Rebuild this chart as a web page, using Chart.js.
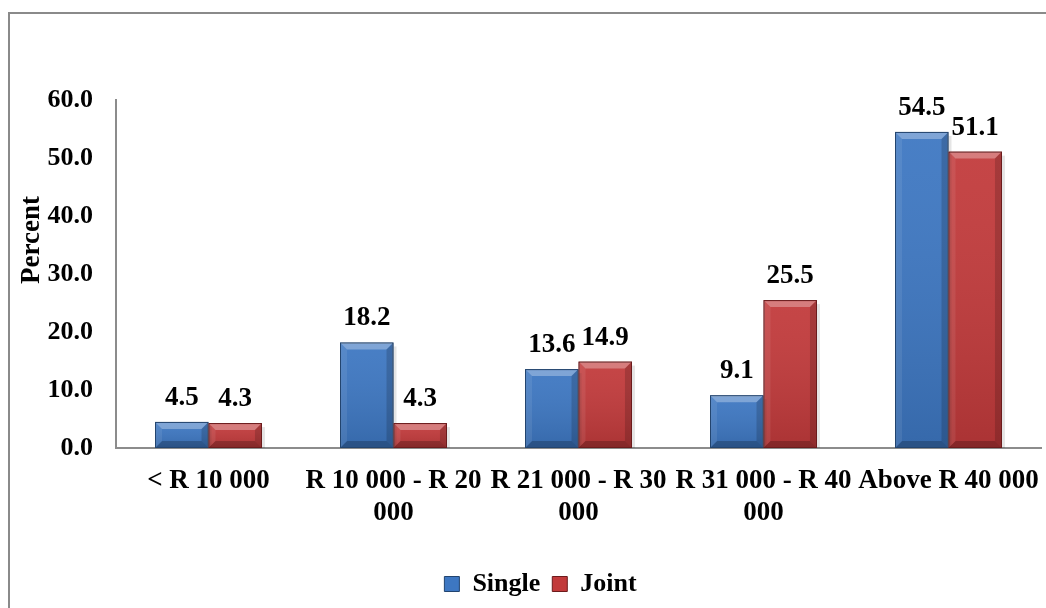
<!DOCTYPE html>
<html>
<head>
<meta charset="utf-8">
<script src="https://cdn.jsdelivr.net/npm/chart.js@4.4.1/dist/chart.umd.min.js"></script>
<style>
  html, body { margin: 0; padding: 0; background: #fff; }
  #wrap { width: 1046px; height: 608px; position: relative; }
</style>
</head>
<body>
<div id="wrap"><canvas id="c"></canvas></div>
<script>
// Income bands (multi-line labels) and the share of each group per band
const categories = [
  ['< R 10 000'],
  ['R 10 000 - R 20', '000'],
  ['R 21 000 - R 30', '000'],
  ['R 31 000 - R 40', '000'],
  ['Above R 40 000']
];
const singleValues = [4.5, 18.2, 13.6, 9.1, 54.5];
const jointValues  = [4.3, 4.3, 14.9, 25.5, 51.1];
const seriesNames  = ['Single', 'Joint'];
const yAxisTitle   = 'Percent';

const FONT = "'Liberation Serif', 'Times New Roman', serif";
const AXIS_GREY = '#8c8c8c';

const palette = [
  { fill: '#3d77c2', edge: '#22446f' },
  { fill: '#c23a3b', edge: '#6c1b1c' }
];

// White page, grey frame and the rotated value-axis caption
const framePlugin = {
  id: 'frame',
  beforeDraw(chart) {
    const ctx = chart.ctx;
    ctx.save();
    ctx.fillStyle = '#fff';
    ctx.fillRect(0, 0, chart.width, chart.height);
    ctx.strokeStyle = '#8a8a8a';
    ctx.lineWidth = 2;
    ctx.strokeRect(9, 13, chart.width + 20, chart.height + 20);
    ctx.restore();
  },
  afterDraw(chart) {
    const ctx = chart.ctx;
    ctx.save();
    ctx.translate(32, chart.chartArea.top + 140);
    ctx.rotate(-Math.PI / 2);
    ctx.fillStyle = '#000';
    ctx.font = 'bold 27px ' + FONT;
    ctx.textAlign = 'center';
    ctx.textBaseline = 'middle';
    ctx.fillText(yAxisTitle, 0, 0);
    ctx.restore();
  }
};

function poly(ctx, pts, style) {
  ctx.beginPath();
  ctx.moveTo(pts[0][0], pts[0][1]);
  for (let i = 1; i < pts.length; i++) ctx.lineTo(pts[i][0], pts[i][1]);
  ctx.closePath();
  ctx.fillStyle = style;
  ctx.fill();
}

// Bevelled bar faces plus the value written above every bar
const bevelPlugin = {
  id: 'bevel',
  afterDatasetsDraw(chart) {
    const ctx = chart.ctx;
    chart.data.datasets.forEach((ds, di) => {
      const meta = chart.getDatasetMeta(di);
      if (meta.hidden) return;
      meta.data.forEach((el, i) => {
        const p = el.getProps(['x', 'y', 'base', 'width'], true);
        const l = p.x - p.width / 2, r = p.x + p.width / 2;
        const t = Math.min(p.y, p.base), b = Math.max(p.y, p.base);
        const d = Math.min(7, (b - t) / 2, p.width / 2);
        ctx.save();
        // soft drop shadow to the lower right
        ctx.fillStyle = 'rgba(0,0,0,0.10)';
        ctx.fillRect(r, t + 4, 3, b - t - 4);
        const g = ctx.createLinearGradient(0, t, 0, b);
        g.addColorStop(0, 'rgba(255,255,255,0.06)');
        g.addColorStop(1, 'rgba(0,0,0,0.12)');
        ctx.fillStyle = g;
        ctx.fillRect(l, t, r - l, b - t);
        poly(ctx, [[l, t], [r, t], [r - d, t + d], [l + d, t + d]], 'rgba(255,255,255,0.30)');
        poly(ctx, [[l, t], [l + d, t + d], [l + d, b - d], [l, b]], 'rgba(255,255,255,0.08)');
        poly(ctx, [[r, t], [r - d, t + d], [r - d, b - d], [r, b]], 'rgba(0,0,0,0.16)');
        poly(ctx, [[l, b], [l + d, b - d], [r - d, b - d], [r, b]], 'rgba(0,0,0,0.22)');
        ctx.strokeStyle = palette[di].edge;
        ctx.lineWidth = 1;
        ctx.strokeRect(l + 0.5, t + 0.5, r - l - 1, b - t - 1);

        ctx.fillStyle = '#000';
        ctx.font = 'bold 27px ' + FONT;
        ctx.textAlign = 'center';
        ctx.textBaseline = 'alphabetic';
        ctx.fillText(Number(ds.data[i]).toFixed(1), p.x, t - 17);
        ctx.restore();
      });
    });
  }
};

new Chart(document.getElementById('c'), {
  type: 'bar',
  data: {
    labels: categories,
    datasets: [
      { label: seriesNames[0], data: singleValues, backgroundColor: palette[0].fill, borderColor: palette[0].edge, borderWidth: 1 },
      { label: seriesNames[1], data: jointValues,  backgroundColor: palette[1].fill, borderColor: palette[1].edge, borderWidth: 1 }
    ]
  },
  options: {
    responsive: true,
    maintainAspectRatio: false,
    animation: false,
    layout: { padding: { top: 100, left: 40, right: 5, bottom: 1 } },
    datasets: { bar: { categoryPercentage: 0.578, barPercentage: 1.0 } },
    plugins: {
      legend: {
        position: 'bottom',
        labels: {
          color: '#000',
          font: { family: FONT, size: 26, weight: 'bold' },
          boxWidth: 15,
          boxHeight: 15,
          padding: 12
        }
      },
      tooltip: { enabled: false }
    },
    scales: {
      x: {
        grid: { display: false, drawTicks: false },
        border: { display: true, color: AXIS_GREY, width: 2 },
        ticks: {
          color: '#000',
          font: { family: FONT, size: 27, weight: 'bold', lineHeight: 1.15 },
          padding: 18,
          autoSkip: false,
          maxRotation: 0,
          minRotation: 0
        },
        afterFit(scale) {
          scale.height = 111;
          // let the outer labels run to the frame edge instead of shrinking the plot
          scale.paddingLeft = 0;
          scale.paddingRight = 0;
        }
      },
      y: {
        min: 0,
        max: 60,
        grid: { display: false, drawTicks: false },
        border: { display: true, color: AXIS_GREY, width: 2 },
        ticks: {
          stepSize: 10,
          color: '#000',
          padding: 23,
          font: { family: FONT, size: 26, weight: 'bold' },
          callback: v => Number(v).toFixed(1)
        },
        afterFit(scale) { scale.width = 76; }
      }
    }
  },
  plugins: [framePlugin, bevelPlugin]
});
</script>
</body>
</html>
